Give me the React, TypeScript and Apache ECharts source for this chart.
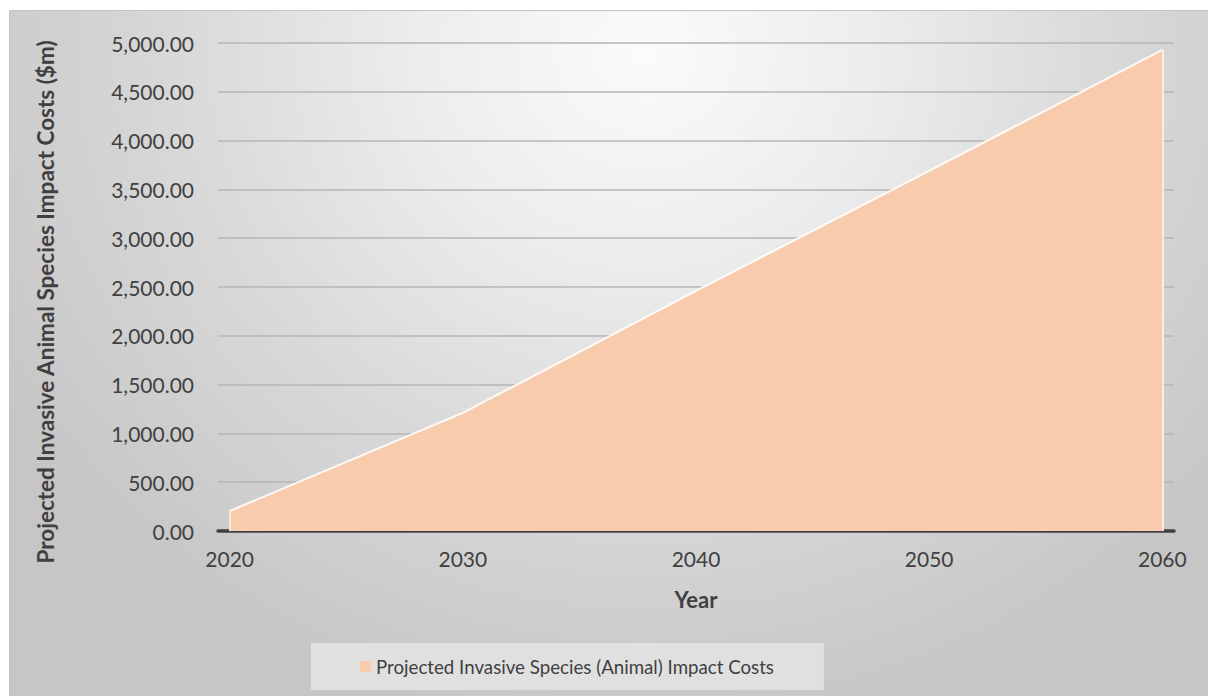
import React, { useEffect, useRef } from "react";
import * as echarts from "echarts";

// Category axis: one category per year, 2020 … 2060
const years = [
  "2020", "2021", "2022", "2023", "2024", "2025", "2026", "2027", "2028", "2029",
  "2030", "2031", "2032", "2033", "2034", "2035", "2036", "2037", "2038", "2039",
  "2040", "2041", "2042", "2043", "2044", "2045", "2046", "2047", "2048", "2049",
  "2050", "2051", "2052", "2053", "2054", "2055", "2056", "2057", "2058", "2059",
  "2060",
];
// Values ($m) at the visible vertices / decade marks
const readYears = ["2020", "2030", "2040", "2050", "2060"];
const readCosts = [205, 1210, 2460, 3690, 4930];

const seriesName = "Projected Invasive Species (Animal) Impact Costs";
const yTitle = "Projected Invasive Animal Species Impact Costs ($m)";
const xTitle = "Year";

const FONT = "Lato, 'Open Sans', sans-serif";
const TEXT = "#404040";

export default function App() {
  const ref = useRef<HTMLDivElement>(null);

  useEffect(() => {
    if (!ref.current) return;
    const chart = echarts.init(ref.current, undefined, { renderer: "svg" });
    const data = years.map((y) => {
      const i = readYears.indexOf(y);
      return i >= 0 ? readCosts[i] : null;
    });
    const first = readYears[0];
    const last = readYears[readYears.length - 1];
    chart.setOption({
      animation: false,
      backgroundColor: "transparent",
      textStyle: { fontFamily: FONT, color: TEXT },
      grid: { left: 208, right: 34, top: 32, bottom: 165, containLabel: false },
      legend: {
        left: 301,
        top: 632,
        padding: [14, 50, 14, 49],
        backgroundColor: "#e0e0e0",
        itemWidth: 11,
        itemHeight: 11,
        icon: "rect",
        textStyle: { fontFamily: FONT, fontSize: 18.7, color: TEXT },
        data: [{ name: seriesName, itemStyle: { color: "#F8CBAD" } }],
      },
      xAxis: {
        type: "category",
        data: years,
        boundaryGap: true,
        name: xTitle,
        nameLocation: "middle",
        nameGap: 57,
        nameTextStyle: { fontFamily: FONT, fontSize: 22, fontWeight: "bold", color: TEXT },
        axisLine: { lineStyle: { color: "#404040", width: 3.5 } },
        axisTick: { show: false },
        axisLabel: {
          interval: (index: number) => index % 10 === 0,
          margin: 17,
          fontFamily: FONT,
          fontSize: 21,
          color: TEXT,
        },
        splitLine: { show: false },
      },
      yAxis: {
        type: "value",
        min: 0,
        max: 5000,
        interval: 500,
        name: yTitle,
        nameLocation: "middle",
        nameGap: 161,
        nameRotate: 90,
        nameTextStyle: {
          fontFamily: FONT,
          fontSize: 22.5,
          fontWeight: "bold",
          color: TEXT,
          padding: [0, 30, 0, 0],
        },
        axisLine: { show: false },
        axisTick: { show: false },
        axisLabel: {
          margin: 24,
          fontFamily: FONT,
          fontSize: 21,
          color: TEXT,
          formatter: (v: number) =>
            v.toLocaleString("en-US", { minimumFractionDigits: 2, maximumFractionDigits: 2 }),
        },
        splitLine: { lineStyle: { color: "#b6b6b6", width: 1.5 } },
      },
      series: [
        {
          name: seriesName,
          type: "line",
          data,
          connectNulls: true,
          showSymbol: false,
          symbol: "none",
          lineStyle: { color: "rgba(255,255,255,0.9)", width: 2 },
          itemStyle: { color: "#F8CBAD" },
          areaStyle: { color: "#F8CBAD", opacity: 1 },
          markLine: {
            silent: true,
            symbol: "none",
            label: { show: false },
            lineStyle: { color: "rgba(253,236,224,0.95)", width: 2, type: "solid" },
            data: [
              [{ coord: [first, 0] }, { coord: [first, readCosts[0]] }],
              [{ coord: [last, 0] }, { coord: [last, readCosts[readCosts.length - 1]] }],
            ],
          },
        },
      ],
    });
    return () => chart.dispose();
  }, []);

  return (
    <div
      ref={ref}
      style={{
        position: "absolute",
        left: 9,
        top: 10,
        width: 1199,
        height: 686,
        boxSizing: "border-box",
        borderTop: "1px solid #c4c4c4",
        borderLeft: "1px solid #c4c4c4",
        background:
          "radial-gradient(ellipse 62% 100% at 53% 6%, #fbfbfb 0%, #ededed 30%, #d8d8d8 64%, #c6c6c6 100%)",
      }}
    />
  );
}
